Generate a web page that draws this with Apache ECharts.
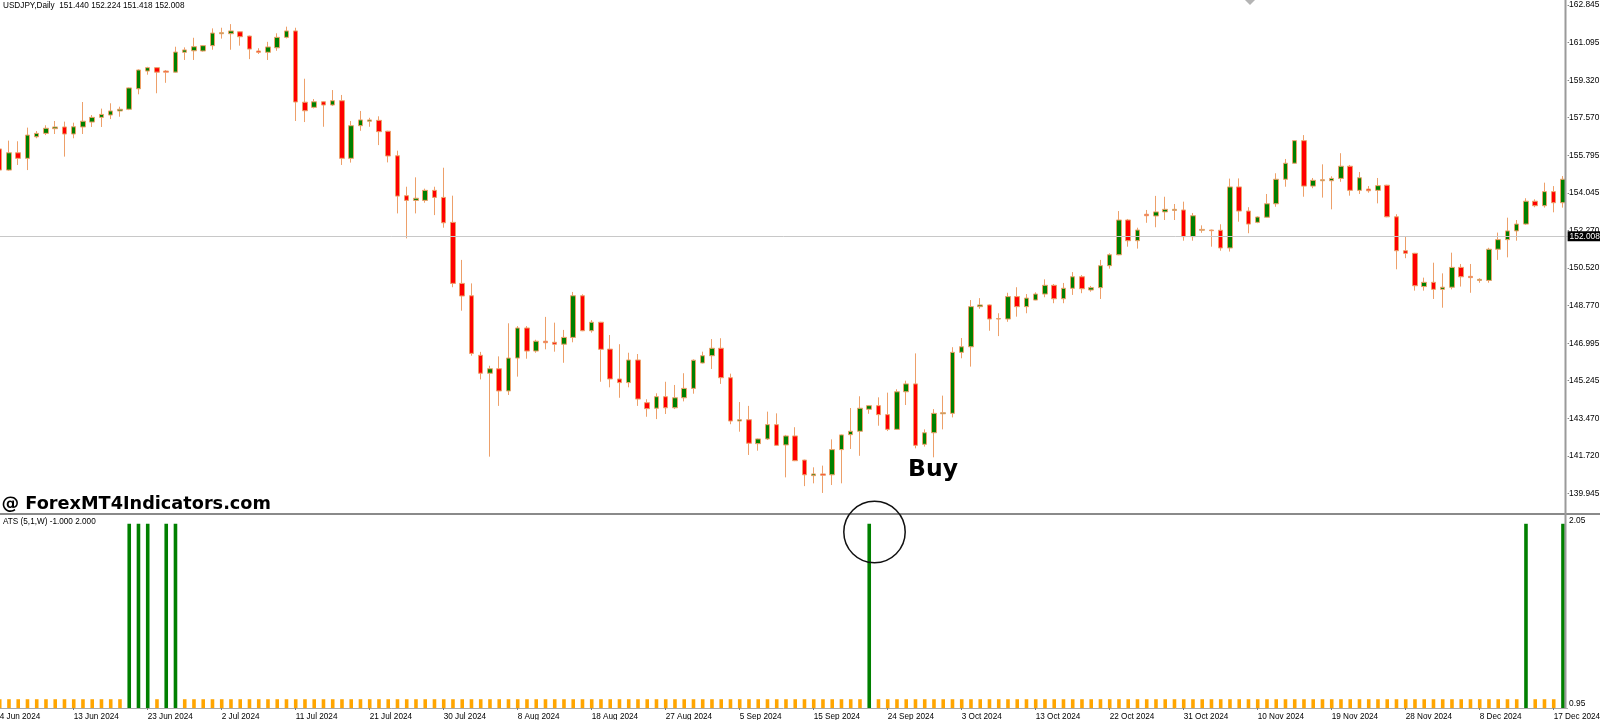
<!DOCTYPE html>
<html><head><meta charset="utf-8">
<script src="https://cdn.jsdelivr.net/npm/echarts@6/dist/echarts.min.js"></script>
<style>html,body{margin:0;padding:0;background:#fff}#c{width:1600px;height:720px}</style>
</head><body><div id="c"></div>
<script>
// Daily USDJPY candles: [open, close, low, high]
const candles = [
[156.10,155.11,155.02,156.19],[155.11,155.92,155.08,156.49],[155.92,155.66,155.35,156.46],[155.66,156.75,155.11,157.10],
[156.67,156.83,156.60,156.94],[156.83,157.07,156.75,157.21],[157.05,157.13,156.80,157.41],[157.13,156.80,155.74,157.38],
[156.80,157.14,156.60,157.33],[157.13,157.40,156.80,158.30],[157.36,157.58,157.13,157.69],[157.58,157.72,157.13,157.99],
[157.69,157.88,157.50,158.24],[157.88,157.96,157.61,158.08],[157.96,158.96,157.92,158.98],[158.92,159.80,158.66,159.83],
[159.75,159.91,159.58,159.95],[159.91,159.70,158.71,159.93],[159.75,159.70,159.20,159.80],[159.70,160.64,159.67,160.89],
[160.63,160.74,160.27,160.86],[160.70,160.89,160.27,161.31],[160.69,160.94,160.66,160.96],[160.94,161.53,160.75,161.75],
[161.50,161.55,161.27,161.78],[161.50,161.63,160.75,161.95],[161.59,161.36,160.94,161.61],[161.39,160.78,160.31,161.41],
[160.69,160.63,160.55,160.82],[160.63,160.88,160.27,161.12],[160.84,161.33,160.70,161.52],[161.33,161.63,161.28,161.83],
[161.63,158.30,157.41,161.78],[158.29,157.89,157.36,159.39],[158.05,158.31,158.00,158.44],[158.31,158.16,157.14,158.33],
[158.16,158.36,158.11,158.86],[158.36,155.66,155.35,158.63],[155.66,157.19,155.46,157.41],[157.19,157.46,156.95,157.88],
[157.40,157.46,157.14,157.56],[157.44,156.91,156.28,157.63],[156.93,155.77,155.47,156.95],[155.78,153.89,153.08,156.02],
[153.91,153.69,151.91,154.33],[153.69,153.79,153.08,154.77],[153.69,154.16,153.58,154.24],[154.16,153.83,153.00,154.33],
[153.83,152.64,152.41,155.22],[152.66,149.80,149.62,153.91],[149.80,149.21,148.52,150.90],[149.22,146.52,146.41,149.80],
[146.43,145.59,145.30,146.59],[145.59,145.80,141.68,145.94],[145.80,144.76,144.06,146.38],[144.76,146.30,144.57,147.93],
[146.30,147.71,145.43,147.80],[147.71,146.63,146.27,147.80],[146.63,147.09,146.55,147.16],[147.09,147.02,146.71,148.23],
[147.04,146.95,146.60,147.96],[146.95,147.27,146.08,147.62],[147.27,149.22,147.04,149.40],[149.22,147.58,147.56,149.29],
[147.58,147.98,147.49,148.08],[147.98,146.71,145.19,148.00],[146.72,145.32,144.93,147.38],[145.32,145.15,144.44,146.95],
[145.15,146.21,144.93,146.55],[146.21,144.38,144.06,146.49],[144.21,143.93,143.55,144.37],[143.95,144.49,143.44,144.65],
[144.49,143.97,143.68,145.19],[143.97,144.44,143.91,145.04],[144.44,144.88,144.27,145.59],[144.88,146.20,144.63,146.24],
[146.07,146.41,146.05,146.60],[146.41,146.76,145.79,147.19],[146.76,145.38,145.09,147.23],[145.38,143.35,143.20,145.57],
[143.35,143.41,142.85,144.24],[143.41,142.31,141.76,144.06],[142.29,142.51,141.96,142.53],[142.51,143.18,142.46,143.79],
[143.18,142.21,142.19,143.71],[142.23,142.65,140.71,142.70],[142.65,141.49,141.47,143.06],[141.52,140.83,140.30,141.54],
[140.79,140.87,140.43,141.18],[140.87,140.81,139.98,141.26],[140.83,142.01,140.35,142.49],[142.01,142.70,140.43,142.72],
[142.71,142.87,142.04,143.96],[142.87,143.95,141.72,144.51],[143.90,144.07,143.69,144.10],[144.07,143.65,143.13,144.46],
[143.65,142.96,142.88,144.68],[142.96,144.72,142.93,144.84],[144.72,145.09,144.10,145.24],[145.09,142.21,142.07,146.52],
[142.26,142.80,142.15,142.96],[142.80,143.71,141.65,143.91],[143.69,143.74,142.96,144.54],[143.71,146.57,143.52,146.81],
[146.57,146.83,146.29,147.24],[146.83,148.71,145.90,149.02],[148.71,148.79,148.61,149.11],[148.79,148.13,147.58,148.81],
[148.13,148.15,147.33,148.40],[148.13,149.18,148.00,149.36],[149.18,148.71,148.24,149.62],[148.71,149.11,148.40,149.30],
[149.02,149.30,149.01,149.38],[149.30,149.71,149.15,149.99],[149.71,149.08,148.87,149.77],[149.08,149.57,148.87,149.82],
[149.57,150.11,149.26,150.33],[150.11,149.55,149.34,150.19],[149.49,149.60,149.41,149.68],[149.60,150.63,149.07,150.90],
[150.63,151.14,150.49,151.21],[151.14,152.77,151.12,153.19],[152.77,151.80,151.52,152.82],[151.80,152.30,151.43,152.41],
[153.04,152.97,152.64,153.24],[152.96,153.15,152.43,153.90],[153.15,153.27,152.77,153.86],[153.22,153.27,152.77,153.52],
[153.24,151.99,151.80,153.63],[151.99,152.97,151.80,153.10],[152.29,152.33,152.17,152.52],[152.30,152.27,151.52,152.32],
[152.29,151.46,151.33,152.57],[151.46,154.32,151.29,154.71],[154.32,153.19,152.69,154.72],[153.19,152.58,152.15,153.37],
[152.66,152.91,152.62,152.94],[152.90,153.53,152.88,153.99],[153.53,154.68,153.39,154.96],[154.68,155.43,154.33,155.63],
[155.43,156.49,155.41,156.51],[156.49,154.36,153.86,156.75],[154.36,154.63,154.26,154.74],[154.61,154.66,153.82,155.38],
[154.61,154.72,153.27,154.82],[154.72,155.29,154.56,155.90],[155.29,154.16,153.91,155.35],[154.16,154.75,153.99,155.02],
[154.22,154.14,154.05,154.36],[154.16,154.38,153.55,154.74],[154.40,152.92,152.90,154.42],[152.92,151.33,150.46,153.04],
[151.33,151.21,150.98,151.99],[151.21,149.69,149.46,151.23],[149.65,149.85,149.46,150.07],[149.85,149.52,149.07,150.77],
[149.52,149.62,148.66,150.27],[149.62,150.55,149.52,151.24],[150.55,150.11,149.65,150.71],[150.13,150.07,149.36,150.71],
[149.94,149.99,149.83,150.04],[149.94,151.40,149.83,151.47],[151.40,151.85,150.90,152.18],[151.85,152.26,151.02,152.88],
[152.26,152.58,151.80,152.77],[152.58,153.65,152.54,153.79],[153.65,153.44,153.37,153.74],[153.44,154.10,153.35,154.52],
[154.10,153.58,153.13,154.36],[153.58,154.68,153.35,154.83]
];

// ATS (5,1,W) histogram: 1 = neutral (orange), 2 = buy signal (green)
const ats = [
1,1,1,1,1,1,1,1,1,1, 1,1,1,1,2,2,2,1,2,2, 1,1,1,1,1,1,1,1,1,1, 1,1,1,1,1,1,1,1,1,1,
1,1,1,1,1,1,1,1,1,1, 1,1,1,1,1,1,1,1,1,1, 1,1,1,1,1,1,1,1,1,1, 1,1,1,1,1,1,1,1,1,1,
1,1,1,1,1,1,1,1,1,1, 1,1,1,1,2,1,1,1,1,1, 1,1,1,1,1,1,1,1,1,1, 1,1,1,1,1,1,1,1,1,1,
1,1,1,1,1,1,1,1,1,1, 1,1,1,1,1,1,1,1,1,1, 1,1,1,1,1,1,1,1,1,1, 1,1,1,1,1,1,1,1,1,1,
1,1,1,1,1,2,1,1,1,2
];

const tickLabels = ['4 Jun 2024','13 Jun 2024','23 Jun 2024','2 Jul 2024','11 Jul 2024','21 Jul 2024',
'30 Jul 2024','8 Aug 2024','18 Aug 2024','27 Aug 2024','5 Sep 2024','15 Sep 2024','24 Sep 2024',
'3 Oct 2024','13 Oct 2024','22 Oct 2024','31 Oct 2024','10 Nov 2024','19 Nov 2024','28 Nov 2024',
'8 Dec 2024','17 Dec 2024'];
const labelEvery = 8;
const priceTicks = [139.945,141.720,143.470,145.245,146.995,148.770,150.520,152.270,154.045,155.795,157.570,159.320,161.095,162.845];
const atsTicks = [0.95, 2.05];
const bidPrice = 152.008;
const headerText = 'USDJPY,Daily  151.440 152.224 151.418 152.008';
const atsText = 'ATS (5,1,W) -1.000 2.000';

// daily bars (Sunday sessions included, no Saturdays)
const categories = [];
(function(){ const d = new Date(Date.UTC(2024,5,4));
  while (categories.length < candles.length) { if (d.getUTCDay() !== 6) categories.push(d.toISOString().slice(0,10)); d.setUTCDate(d.getUTCDate()+1); } })();

const GREEN = '#008000', RED = '#FF0000', WICK = '#EDA06A', ORANGE = '#FFA500';
const FONT = 'Liberation Sans';
const FS = 8.4;
const FSX = 8.2;
const showIdx = (i) => i % labelEvery === 0;

const chart = echarts.init(document.getElementById('c'), null, {renderer:'canvas'});
chart.setOption({
  animation: false,
  backgroundColor: '#ffffff',
  grid: [
    {left: -4.9, top: 0, width: 1572.5, height: 513, containLabel:false, outerBoundsMode:'none'},
    {left: -4.9, top: 515, width: 1572.5, height: 193, containLabel:false, outerBoundsMode:'none'}
  ],
  xAxis: [
    {gridIndex:0, type:'category', data: categories, boundaryGap: true,
     axisLine:{show:false}, axisTick:{show:false}, axisLabel:{show:false}, splitLine:{show:false}},
    {gridIndex:1, type:'category', data: categories, boundaryGap: true,
     axisLine:{show:true, lineStyle:{color:'#a8a8a8', width:1}},
     axisTick:{show:true, alignWithLabel:true, interval:showIdx, length:2, lineStyle:{color:'#808080'}},
     axisLabel:{show:true, interval:showIdx, align:'left', margin:4.5, fontSize:FSX, fontFamily:FONT, color:'#000',
       formatter:(v, i) => tickLabels[i / labelEvery] || ''},
     splitLine:{show:false}}
  ],
  yAxis: [
    {gridIndex:0, type:'value', position:'right', min:139.04, max:163.08, scale:true,
     splitLine:{show:false}, axisLine:{show:false},
     axisTick:{show:true, customValues: priceTicks, length:1.5, lineStyle:{color:'#808080'}},
     axisLabel:{customValues: priceTicks, showMinLabel:true, showMaxLabel:true, margin:1.5,
       fontSize:FS, fontFamily:FONT, color:'#000', formatter:(v)=>Number(v).toFixed(3)}},
    {gridIndex:1, type:'value', position:'right', min:0.95, max:2.05,
     splitLine:{show:false}, axisLine:{show:false}, axisTick:{show:false},
     axisLabel:{customValues: atsTicks, showMinLabel:true, showMaxLabel:true, margin:1.5,
       fontSize:FS, fontFamily:FONT, color:'#000',
       formatter:(v)=> (v > 1.5 ? '{t|' : '{b|') + Number(v).toFixed(2) + '}',
       rich:{t:{padding:[12,0,0,0], fontSize:FS, fontFamily:FONT, color:'#000'},
             b:{padding:[0,0,8,0], fontSize:FS, fontFamily:FONT, color:'#000'}}}}
  ],
  series: [
    {type:'candlestick', xAxisIndex:0, yAxisIndex:0, data: candles, barWidth: 5,
     itemStyle:{color:GREEN, color0:RED, borderColor:WICK, borderColor0:WICK, borderColorDoji:WICK, borderWidth:1},
     markLine:{symbol:'none', silent:true, animation:false,
       data:[{yAxis: bidPrice}],
       lineStyle:{color:'#c8c8c8', width:1, type:'solid'},
       label:{show:true, position:'end', distance:0, formatter: bidPrice.toFixed(3),
         backgroundColor:'#000', color:'#fff', fontSize:FS, fontFamily:FONT, padding:[1,3,1,2]}}},
    {type:'bar', xAxisIndex:1, yAxisIndex:1, clip:true, barWidth: 3.6,
     data: ats.map(v => ({value: v, itemStyle:{color: v === 2 ? GREEN : ORANGE}}))}
  ],
  graphic: [
    {type:'line', z:50, shape:{x1:0, y1:514, x2:1600, y2:514}, style:{stroke:'#8a8a8a', lineWidth:2}},
    {type:'line', z:50, shape:{x1:1565.5, y1:0, x2:1565.5, y2:708}, style:{stroke:'#9a9a9a', lineWidth:2}},
    {type:'polygon', z:50, shape:{points:[[1245,0],[1255,0],[1250,5]]}, style:{fill:'#b4b4b4'}},
    {type:'text', z:60, left:3, top:1.5, style:{text: headerText, font:'8.2px "Liberation Sans"', fill:'#000'}},
    {type:'text', z:60, left:3, top:517.5, style:{text: atsText, font:'8.2px "Liberation Sans"', fill:'#000'}},
    {type:'text', z:60, left:1.5, top:495, style:{text:'@ ForexMT4Indicators.com', font:'bold 17.7px "DejaVu Sans"', fill:'#000'}},
    {type:'text', z:60, left:908, top:458, style:{text:'Buy', font:'bold 23.5px "DejaVu Sans"', fill:'#000'}},
    {type:'circle', z:60, shape:{cx:874.5, cy:532, r:30.7}, style:{fill:'none', stroke:'#111', lineWidth:1.5}}
  ]
});
</script>
</body></html>
